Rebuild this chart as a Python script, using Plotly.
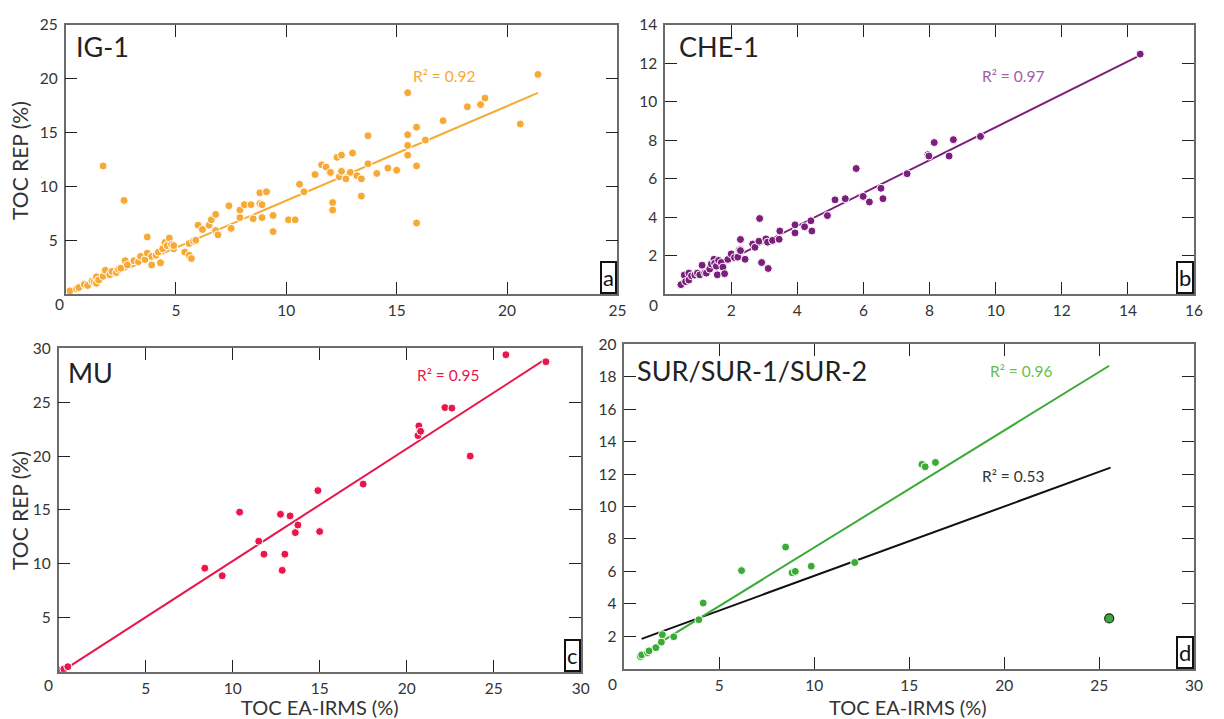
import numpy as np
import plotly.graph_objects as go

# Reference picture size and page body margin compensation
W_REF, H_REF = 1224, 719
OFF = 8
W, H = W_REF - 2 * OFF, H_REF - OFF
FONT = "Lato"

# ---------------- data ----------------
IG1_x = [0.2, 0.5, 0.6, 0.85, 1.0, 1.2, 1.3, 1.4, 1.4, 1.5, 1.7, 1.8, 1.7, 2.0, 2.1, 2.3, 2.4, 2.5,
         2.65, 2.7, 2.8, 3.1, 3.3, 3.4, 3.6, 3.7, 3.7, 3.9, 3.9, 4.1, 4.2, 4.3, 4.4, 4.5, 4.6, 4.7,
         4.8, 4.9, 4.9, 5.4, 5.6, 5.6, 5.7, 5.8, 5.9, 6.0, 6.2, 6.5, 6.6, 6.8, 6.8, 6.9, 7.4, 7.5,
         7.9, 7.9, 8.1, 8.4, 8.5, 8.8, 8.8, 8.9, 8.9, 9.1, 9.4, 9.4, 10.1, 10.4, 10.6, 10.8, 11.3,
         11.6, 11.8, 12.0, 12.1, 12.1, 12.3, 12.5, 12.4, 12.5, 12.7, 12.9, 13.0, 13.2, 13.4, 13.4,
         13.7, 13.7, 14.1, 14.6, 15.0, 15.5, 15.5, 15.5, 15.5, 15.9, 15.9, 15.9, 16.3, 17.1, 18.2,
         18.8, 19.0, 20.6, 21.4]
IG1_y = [0.3, 0.5, 0.6, 0.9, 0.8, 1.2, 1.1, 1.6, 1.0, 1.3, 1.65, 2.2, 11.9, 1.8, 2.1, 2.0, 2.3, 2.4,
         8.7, 3.1, 2.7, 3.1, 3.0, 3.5, 3.2, 3.8, 5.3, 2.7, 3.5, 3.6, 3.9, 2.9, 4.2, 4.8, 4.5, 5.2,
         4.6, 4.2, 4.5, 3.9, 4.7, 3.6, 3.3, 4.9, 5.0, 6.4, 6.0, 6.4, 6.9, 7.4, 5.9, 5.5, 8.2, 6.1,
         7.8, 7.1, 8.3, 8.3, 7.0, 9.4, 8.4, 8.3, 7.1, 9.5, 7.3, 5.8, 6.9, 6.9, 10.2, 9.5, 11.1,
         12.0, 11.8, 11.3, 8.5, 7.8, 12.7, 12.9, 10.9, 11.4, 10.7, 11.3, 13.1, 11.0, 10.7, 9.1,
         14.7, 12.1, 11.2, 11.7, 11.5, 18.7, 14.8, 13.8, 12.9, 15.5, 11.9, 6.6, 14.3, 16.1, 17.4,
         17.6, 18.2, 15.8, 20.4]
IG1_fit = [0.877, -0.08]
IG1_fit_x = [0.2, 21.4]

CHE1_x = [0.48, 0.58, 0.62, 0.72, 0.72, 0.8, 0.9, 0.98, 1.05, 1.12, 1.2, 1.25, 1.35, 1.4, 1.48, 1.5,
          1.55, 1.58, 1.62, 1.7, 1.75, 1.8, 1.9, 2.0, 2.1, 2.2, 2.25, 2.28, 2.28, 2.42, 2.65, 2.72,
          2.84, 2.86, 2.92, 3.05, 3.1, 3.12, 3.25, 3.45, 3.47, 3.93, 3.93, 4.22, 4.41, 4.44, 4.91,
          5.14, 5.45, 5.78, 5.99, 6.18, 6.53, 6.59, 7.32, 7.95, 7.98, 8.14, 8.59, 8.72, 9.54, 14.37]
CHE1_y = [0.49, 0.99, 0.65, 0.73, 1.09, 0.95, 0.99, 1.09, 1.0, 1.5, 1.1, 1.09, 1.3, 1.56, 1.81, 1.6,
          1.45, 1.0, 1.75, 1.64, 1.4, 1.06, 1.8, 2.09, 1.9, 1.92, 2.3, 2.84, 2.26, 1.81, 2.6, 2.43,
          2.75, 3.93, 1.64, 2.87, 2.7, 1.33, 2.79, 2.85, 3.28, 3.6, 3.18, 3.5, 3.81, 3.28, 4.08,
          4.9, 4.96, 6.53, 5.08, 4.79, 5.5, 4.96, 6.26, 7.25, 7.18, 7.88, 7.18, 8.03, 8.2, 12.48]
CHE1_fit = [0.856, 0.12]
CHE1_fit_x = [0.5, 14.35]

MU_x = [0.15, 0.3, 0.53, 8.4, 9.4, 10.4, 11.5, 11.8, 12.75, 12.85, 13.0, 13.3, 13.6, 13.75, 14.9,
        15.0, 17.5, 20.65, 20.7, 20.8, 22.2, 22.6, 23.65, 25.7, 28.0]
MU_y = [0.15, 0.25, 0.46, 9.6, 8.9, 14.8, 12.1, 10.9, 14.6, 9.4, 10.9, 14.45, 12.9, 13.6, 16.8,
        13.0, 17.4, 21.9, 22.8, 22.3, 24.5, 24.45, 20.0, 29.4, 28.75]
MU_fit = [1.042, -0.16]
MU_fit_x = [0.25, 27.95]

SUR_x = [0.85, 0.91, 1.22, 1.3, 1.66, 1.95, 2.0, 2.6, 3.92, 4.15, 6.17, 8.49, 8.83, 9.0, 9.84,
         12.13, 15.67, 15.84, 16.38]
SUR_y = [0.75, 0.85, 0.99, 1.1, 1.3, 1.64, 2.1, 1.97, 3.02, 4.05, 6.05, 7.5, 5.92, 6.0, 6.32,
         6.55, 12.6, 12.45, 12.72]
SUR_out_x = [25.53]
SUR_out_y = [3.1]
SUR_fit = [0.7215, 0.26]
SUR_fit_x = [0.87, 25.53]
SURall_fit = [0.4276, 1.45]
SURall_fit_x = [0.91, 25.6]

ORANGE = "#F6A935"
PURPLE = "#7A1F7D"
PURPLE_T = "#A55DA6"
RED = "#E8164B"
GREEN = "#3BAA36"
GREEN_T = "#6CBD4C"

# ---------------- geometry helpers (reference-pixel -> paper) ----------------
def px(x):
    return (x - OFF) / W

def py(y):
    return 1 - (y - OFF) / H

def xd(a, b):
    return [px(a), px(b)]

def yd(top, bottom):
    return [py(bottom), py(top)]

fig = go.Figure()

panels = [
    dict(ax="", dx=xd(66, 622), dy=yd(15, 288), xr=[0, 25], yr=[0, 25],
         xt=[5, 10, 15, 20, 25], yt=[5, 10, 15, 20, 25]),
    dict(ax="2", dx=xd(670, 1203), dy=yd(15, 288), xr=[0, 16], yr=[0, 14],
         xt=[2, 4, 6, 8, 10, 12, 14, 16], yt=[2, 4, 6, 8, 10, 12, 14]),
    dict(ax="3", dx=xd(59, 585), dy=yd(343, 671), xr=[0, 30], yr=[0, 30],
         xt=[5, 10, 15, 20, 25, 30], yt=[5, 10, 15, 20, 25, 30]),
    dict(ax="4", dx=xd(629, 1203), dy=yd(339, 668), xr=[0, 30], yr=[0, 20],
         xt=[5, 10, 15, 20, 25, 30], yt=[2, 4, 6, 8, 10, 12, 14, 16, 18, 20]),
]

axis_common = dict(
    showline=True, linecolor="#6b6b6b", linewidth=1.5, mirror="ticks",
    ticks="inside", ticklen=12, tickwidth=1.3, tickcolor="#222",
    showgrid=False, zeroline=False,
    tickfont=dict(family=FONT, size=15.5, color="#333"),
)

layout_axes = {}
for p in panels:
    a = p["ax"]
    layout_axes["xaxis" + a] = dict(axis_common, domain=p["dx"], range=p["xr"],
                                    tickvals=p["xt"], anchor="y" + a, ticklabelstandoff=2)
    layout_axes["yaxis" + a] = dict(axis_common, domain=p["dy"], range=p["yr"],
                                    tickvals=p["yt"], anchor="x" + a, ticklabelstandoff=3)


def add_points(xs, ys, color, a, size=8, line_color="white", line_width=1):
    fig.add_trace(go.Scatter(x=xs, y=ys, mode="markers", xaxis="x" + a, yaxis="y" + a,
                             marker=dict(size=size, color=color,
                                         line=dict(color=line_color, width=line_width)),
                             showlegend=False, hoverinfo="x+y"))


def add_fit(fit, xr, color, a):
    xs = np.array(xr, dtype=float)
    ys = fit[0] * xs + fit[1]
    fig.add_trace(go.Scatter(x=xs, y=ys, mode="lines", xaxis="x" + a, yaxis="y" + a,
                             line=dict(color=color, width=2), showlegend=False,
                             hoverinfo="skip"))


add_fit(IG1_fit, IG1_fit_x, ORANGE, "")
add_points(IG1_x, IG1_y, ORANGE, "")
add_fit(CHE1_fit, CHE1_fit_x, PURPLE, "2")
add_points(CHE1_x, CHE1_y, PURPLE, "2")
add_fit(MU_fit, MU_fit_x, RED, "3")
add_points(MU_x, MU_y, RED, "3")
add_fit(SURall_fit, SURall_fit_x, "#111", "4")
add_fit(SUR_fit, SUR_fit_x, GREEN, "4")
add_points(SUR_x, SUR_y, GREEN, "4")
add_points(SUR_out_x, SUR_out_y, GREEN, "4", size=9, line_color="#222", line_width=1.2)

ann = []
# panel names
for name, x, y in [("IG-1", 74, 37), ("CHE-1", 682, 37), ("MU", 66, 368),
                   ("SUR/SUR-1/SUR-2", 640, 366)]:
    ann.append(dict(text=name, x=px(x), y=py(y), xref="paper", yref="paper",
                    xanchor="left", yanchor="middle", showarrow=False,
                    font=dict(family=FONT, size=27, color="#222")))

# R^2 labels
for txt, x, y, col in [("R² = 0.92", 447, 67, ORANGE), ("R² = 0.97", 1021, 67, PURPLE_T),
                       ("R² = 0.95", 451, 370, RED), ("R² = 0.96", 1029, 366, GREEN_T),
                       ("R² = 0.53", 1021, 473, "#333")]:
    ann.append(dict(text=txt, x=px(x), y=py(y), xref="paper", yref="paper",
                    xanchor="center", yanchor="middle", showarrow=False,
                    font=dict(family=FONT, size=15.5, color=col)))

# corner letters
for letter, a in [("a", ""), ("b", "2"), ("c", "3"), ("d", "4")]:
    ann.append(dict(text=letter, x=1, y=0, xref="x" + a + " domain", yref="y" + a + " domain",
                    xanchor="right", yanchor="bottom", showarrow=False,
                    bordercolor="#111", borderwidth=2, borderpad=1, bgcolor="white",
                    font=dict(family=FONT, size=22, color="#111")))

# corner zeros
for x, y in [(60, 298), (658, 299), (49, 685), (617, 683)]:
    ann.append(dict(text="0", x=px(x), y=py(y), xref="paper", yref="paper",
                    xanchor="center", yanchor="middle", showarrow=False,
                    font=dict(family=FONT, size=15.5, color="#333")))

# axis titles
for x, y in [(20, 152), (20, 507)]:
    ann.append(dict(text="TOC REP (%)", x=px(x), y=py(y), xref="paper", yref="paper",
                    xanchor="center", yanchor="middle", textangle=-90, showarrow=False,
                    font=dict(family=FONT, size=21, color="#333")))
for x, y in [(322, 707), (915, 707)]:
    ann.append(dict(text="TOC EA-IRMS (%)", x=px(x), y=py(y), xref="paper", yref="paper",
                    xanchor="center", yanchor="middle", showarrow=False,
                    font=dict(family=FONT, size=20, color="#333")))

fig.update_layout(
    width=W, height=H, margin=dict(l=0, r=0, t=0, b=0),
    paper_bgcolor="white", plot_bgcolor="white",
    annotations=ann, **layout_axes,
)

fig.write_html("out.html")
